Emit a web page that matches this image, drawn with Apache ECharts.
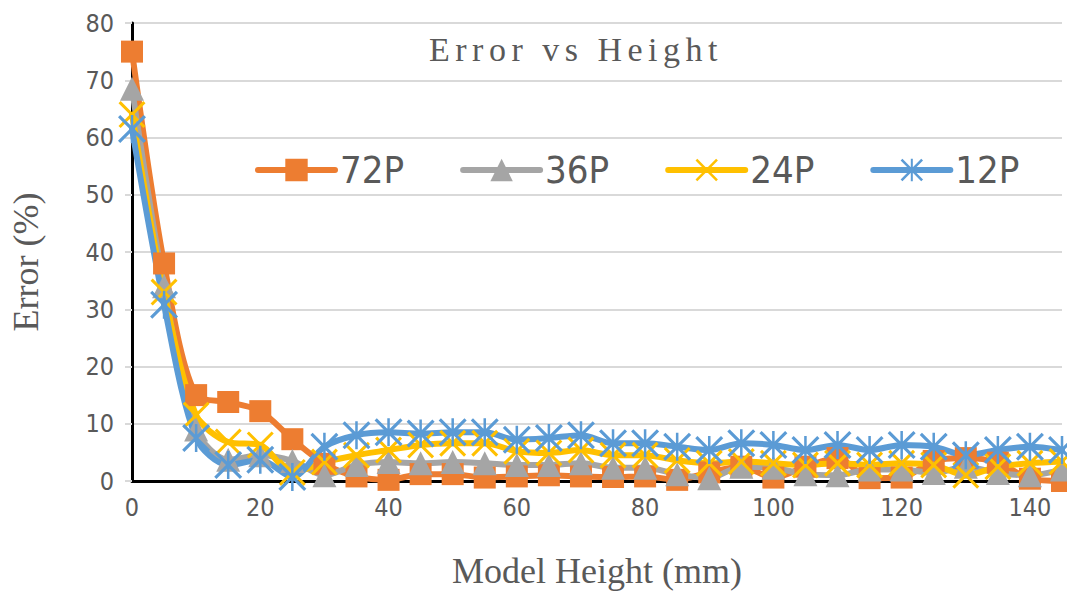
<!DOCTYPE html>
<html>
<head>
<meta charset="utf-8">
<script src="https://cdn.jsdelivr.net/npm/echarts@6/dist/echarts.min.js"></script>
<style>
  html, body { margin: 0; padding: 0; background: #ffffff; }
  #chart { width: 1067px; height: 594px; }
</style>
</head>
<body>
<div id="chart"></div>
<script>
// Model height (mm) at which each error was measured
const heights = [0, 5, 10, 15, 20, 25, 30, 35, 40, 45, 50, 55, 60, 65, 70,
                 75, 80, 85, 90, 95, 100, 105, 110, 115, 120, 125, 130, 135, 140, 145];

// Error (%) per print resolution
const err72P = [75, 38, 15, 13.8, 12.2, 7.3, 3, 0.8, 0.2, 1.2, 1.2, 0.6, 0.8, 1.0, 0.8,
                0.7, 0.8, 0.2, 1.5, 2.5, 0.6, 2.5, 4, 0.5, 0.6, 3.5, 4, 3.2, 0.4, 0];
const err36P = [68.5, 34, 9, 3.7, 4.5, 3.5, 1, 2.8, 3.3, 3.1, 3.3, 3.1, 2.8, 2.8, 3.1,
                2.3, 2.3, 1.2, 0.5, 2.5, 2.3, 1.2, 1, 2, 2, 1.4, 2.5, 1.4, 1, 2];
const err24P = [64, 33, 11.5, 6.8, 6.3, 1.5, 3.3, 4.5, 5.4, 6.3, 6.6, 6.6, 5.2, 4.9, 5.4,
                4.5, 4.5, 3.6, 3.1, 3.4, 3.1, 2.8, 3.1, 2.8, 3.1, 2.8, 1, 2.5, 3.1, 3.4];
const err12P = [61.5, 30.8, 7.5, 2.8, 3.7, 0.7, 6, 8, 8.5, 8.3, 8.5, 8.5, 7.2, 7.5, 8,
                6.6, 6.6, 6, 5.4, 6.6, 6.3, 5.4, 6.3, 5.4, 6.3, 6, 4.5, 5.4, 6, 5.4];

const seriesNames = ['72P', '36P', '24P', '12P'];
const yTicks = [0, 80, 10];   // min, max, step
const xTicks = [0, 145, 20];

const titleText = 'Error vs Height';

// Marker shapes: an "x" cross and an asterisk (cross + vertical bar)
const crossPath = 'path://M0,8L8,0L50,42L92,0L100,8L58,50L100,92L92,100L50,58L8,100L0,92L42,50Z';
const starPath = 'path://M0,8L8,0L50,42L92,0L100,8L58,50L100,92L92,100L50,58L8,100L0,92L42,50Z' +
                 'M45.5,0L54.5,0L54.5,100L45.5,100Z';

const pair = (vals) => heights.map((h, i) => [h, vals[i]]);

const textGray = '#595959';
const sansNarrow = "'Liberation Sans Narrow', 'DejaVu Sans Condensed', 'Roboto Condensed', 'Noto Sans', sans-serif";
const serif = "'Liberation Serif', 'DejaVu Serif', serif";

const styles = [
  { color: '#ED7D31', symbol: 'rect', size: 22, data: err72P },
  { color: '#A5A5A5', symbol: 'triangle', size: 24, data: err36P },
  { color: '#FFC000', symbol: crossPath, size: 27, data: err24P },
  { color: '#5B9BD5', symbol: starPath, size: 28, data: err12P }
];

const chart = echarts.init(document.getElementById('chart'), null, { renderer: 'svg' });

chart.setOption({
  animation: false,
  backgroundColor: '#ffffff',
  title: {
    text: titleText,
    left: 571,
    top: 27,
    textAlign: 'center',
    textStyle: {
      fontFamily: serif,
      fontSize: 34,
      fontWeight: 'normal',
      color: textGray
    }
  },
  legend: {
    data: seriesNames,
    left: 250,
    top: 146,
    itemWidth: 77,
    itemHeight: 28,
    itemGap: 56,
    lineStyle: { width: 6 },
    textStyle: {
      fontFamily: sansNarrow,
      fontSize: 38,
      color: textGray
    }
  },
  grid: { left: 130, right: 5, top: 23, bottom: 113 },
  xAxis: {
    type: 'value',
    min: xTicks[0],
    max: xTicks[1],
    interval: xTicks[2],
    name: 'Model Height (mm)',
    nameLocation: 'middle',
    nameGap: 72,
    nameTextStyle: { fontFamily: serif, fontSize: 36, color: textGray },
    axisLine: { lineStyle: { color: '#000000', width: 3 } },
    axisTick: { show: false },
    splitLine: { show: false },
    axisLabel: {
      margin: 14,
      fontFamily: sansNarrow,
      fontSize: 25,
      color: textGray,
      formatter: (v) => (v % xTicks[2] === 0 ? String(v) : '')
    }
  },
  yAxis: {
    type: 'value',
    min: yTicks[0],
    max: yTicks[1],
    interval: yTicks[2],
    name: 'Error (%)',
    nameLocation: 'middle',
    nameGap: 88,
    nameTextStyle: { fontFamily: serif, fontSize: 36, color: textGray, padding: [0, 20, 0, 0] },
    axisLine: { show: true, lineStyle: { color: '#000000', width: 3 } },
    axisTick: { show: true, length: 7, lineStyle: { color: '#d9d9d9', width: 2 } },
    splitLine: { lineStyle: { color: '#d9d9d9', width: 2 } },
    axisLabel: {
      margin: 18,
      fontFamily: sansNarrow,
      fontSize: 25,
      color: textGray
    }
  },
  series: styles.map((s, i) => ({
    name: seriesNames[i],
    type: 'line',
    data: pair(s.data),
    smooth: 0.3,
    symbol: s.symbol,
    symbolSize: s.size,
    showAllSymbol: true,
    lineStyle: { color: s.color, width: 6, cap: 'round' },
    itemStyle: { color: s.color, borderWidth: 0 }
  }))
});

// Spread the title letters out
function spaceTitle() {
  document.querySelectorAll('#chart text').forEach((t) => {
    if (t.textContent === titleText) {
      t.setAttribute('letter-spacing', '5.5');
    }
  });
}
spaceTitle();
chart.on('finished', spaceTitle);
setTimeout(spaceTitle, 50);
</script>
</body>
</html>
